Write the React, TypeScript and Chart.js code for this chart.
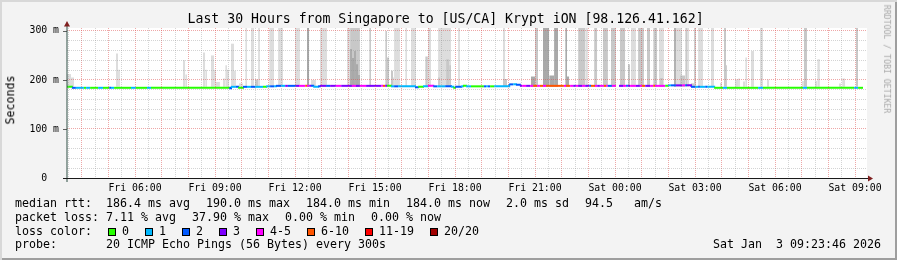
import React, { useEffect, useRef } from 'react';
import { Chart, registerables } from 'chart.js';

Chart.register(...registerables);

// ---------- text ----------
const TITLE = 'Last 30 Hours from Singapore to [US/CA] Krypt iON [98.126.41.162]';
const Y_AXIS_TITLE = 'Seconds';
const WATERMARK = 'RRDTOOL / TOBI OETIKER';
const ROW_LABELS = ['median rtt:', 'packet loss:', 'loss color:', 'probe:'];
const MEDIAN_STATS = ['186.4 ms avg', '190.0 ms max', '184.0 ms min', '184.0 ms now', '2.0 ms sd', '94.5   am/s'];
const LOSS_STATS = ['7.11 % avg', '37.90 % max', '0.00 % min', '0.00 % now'];
const PROBE = '20 ICMP Echo Pings (56 Bytes) every 300s';
const TIMESTAMP = 'Sat Jan  3 09:23:46 2026';

// ---------- axes (time in minutes since Fri 00:00) ----------
const X_MIN = 207; // Fri 03:27
const X_MAX = 2007; // Sat 09:27
const X_GRID_STEP = 30;
const X_MAJOR_STEP = 60;
const X_LABEL_STEP = 180;
const DAY_NAMES = ['Fri', 'Sat'];
const Y_MIN = 0;
const Y_MAX = 306;
const Y_GRID_STEP = 20;
const Y_LABEL_STEP = 100;

// ---------- loss legend ----------
const LOSS_LABELS = ['0', '1', '2', '3', '4-5', '6-10', '11-19', '20/20'];
const LOSS_COLORS = ['#26ff00', '#00b8ff', '#0059ff', '#7e00ff', '#ff00ff', '#ff5500', '#ff0000', '#a10000'];

// ---------- smoke (ping spread) ----------
const SMOKE_BASE = 186;
const smokeStart = [207,216,317,322,468,473,513,518,531,538,542,558,563,567,576,583,594,608,621,630,637,662,682,720,747,756,776,837,844,844,848,853,857,862,887,923,927,936,941,943,968,981,1013,1019,1042,1042,1060,1067,1087,1188,1188,1251,1260,1278,1292,1303,1328,1332,1357,1373,1393,1413,1431,1451,1469,1476,1492,1512,1526,1539,1541,1573,1577,1586,1598,1602,1611,1618,1627,1656,1676,1685,1690,1710,1717,1728,1733,1746,1766,1782,1861,1865,1890,1895,1944,1951,1982];
const smokeEnd = [216,223,322,326,473,477,518,522,538,542,551,563,567,572,583,587,603,612,628,637,641,673,693,731,752,767,792,844,866,848,853,857,862,866,891,927,932,941,943,956,972,992,1019,1026,1071,1046,1067,1071,1091,1193,1197,1260,1267,1292,1303,1312,1332,1337,1373,1379,1400,1424,1442,1463,1474,1487,1505,1519,1535,1550,1548,1577,1591,1598,1602,1607,1618,1622,1638,1663,1681,1690,1692,1717,1721,1733,1737,1753,1773,1787,1865,1872,1895,1901,1949,1958,1987];
const smokeTop = [212,205,254,221,240,211,256,221,250,221,196,203,230,221,274,219,193,400,400,201,400,400,400,400,400,200,400,400,400,263,245,259,232,210,400,300,246,219,205,400,400,400,248,400,400,205,242,230,400,400,202,207,400,400,209,400,400,207,400,400,400,400,400,400,232,400,400,400,400,400,204,400,400,209,400,400,193,400,400,400,194,400,230,201,203,197,246,259,400,201,198,400,198,242,193,203,400];
const smokeDensity = [0,0,0,0,0,0,0,0,0,0,0,0,0,0,0,0,0,0,0,1,0,0,0,0,2,0,0,0,1,2,2,2,2,2,1,1,1,1,1,0,0,0,1,0,0,1,1,1,0,0,1,2,1,2,2,2,2,2,1,0,1,1,1,1,1,0,1,1,1,0,1,2,0,1,1,0,1,1,0,0,0,1,1,0,0,0,0,0,0,0,0,1,0,0,0,0,1];
const SMOKE_COLORS = ['#dddddd', '#c8c8c8', '#a9a9a9'];

// ---------- median rtt (ms) with loss class ----------
const medTime = [207,218,227,245,250,259,277,288,302,306,313,351,362,387,396,572,576,587,592,603,612,621,630,648,655,664,673,677,689,698,704,722,729,743,747,752,756,761,772,776,790,799,812,824,848,857,866,880,914,918,923,927,936,943,952,990,997,1008,1019,1031,1040,1058,1071,1076,1080,1094,1098,1105,1116,1145,1150,1154,1159,1168,1202,1211,1217,1226,1231,1240,1249,1256,1265,1271,1278,1285,1325,1330,1339,1346,1352,1357,1366,1373,1382,1386,1395,1400,1406,1415,1420,1424,1433,1442,1443,1449,1458,1465,1469,1474,1487,1496,1501,1508,1519,1526,1530,1553,1559,1566,1577,1591,1598,1602,1611,1620,1627,1631,1643,1647,1663,1683,1692,1762,1773,1863,1872,1978,1987,1998];
const medRtt = [186,184,184,184,184,184,184,184,184,184,184,184,184,184,184,183,186,186,184,186,186,186,186,186,187,187,187,188,188,188,188,188,188,188,188,188,188,186,187,188,188,188,188,188,188,188,188,188,188,188,188,188,187,187,187,185,186,187,188,187,187,187,186,184,186,187,188,187,187,187,187,187,187,187,191,191,190,188,188,188,188,188,188,188,188,188,188,188,188,188,188,188,188,188,188,188,188,188,188,188,188,188,188,188,null,188,188,188,188,188,188,188,188,188,188,188,188,188,189,189,189,189,189,189,186,186,186,186,186,186,184,184,184,184,184,184,184,184,184,184];
const medLoss = [0,2,1,0,1,0,1,0,2,1,0,1,0,1,0,2,1,2,0,2,1,2,1,0,1,2,1,2,1,3,2,3,4,5,4,3,2,1,2,3,2,3,4,3,4,3,4,3,4,5,3,0,1,2,1,2,0,1,4,2,1,2,1,0,2,1,0,1,0,2,1,2,0,1,2,1,2,3,4,3,4,5,4,5,4,5,4,5,4,3,4,3,4,3,2,5,4,3,4,5,4,2,4,4,4,3,4,2,3,4,3,4,5,3,4,5,4,0,1,2,3,4,2,3,2,1,2,1,2,1,0,1,0,1,0,1,0,1,0,0];

// ---------- layout constants ----------
const W = 897;
const H = 260;
const MONO = '"DejaVu Sans Mono", monospace';
const LEG_SIZE = 11.63;
const CHAR_W = 7.0;
const ITEM_GAP = 16;
const COL_X = 106;
const ROW_BASE = [208.3, 222, 235.7, 249.3];
const GRID_GRAY = 'rgba(143,143,143,0.38)';
const GRID_RED = 'rgba(222,80,80,0.5)';

function range(a: number, b: number, step: number) {
  const out: number[] = [];
  const s = Math.ceil(a / step) * step;
  for (let v = s; v <= b; v += step) out.push(v);
  return out;
}

function smokePoints(density: number) {
  const pts: { x: number; y: number | null }[] = [];
  for (let i = 0; i < smokeStart.length; i++) {
    if (smokeDensity[i] !== density) continue;
    pts.push({ x: smokeStart[i], y: smokeTop[i] });
    pts.push({ x: smokeEnd[i], y: smokeTop[i] });
    pts.push({ x: smokeEnd[i], y: null });
  }
  return pts;
}

function timeLabel(v: number) {
  const day = DAY_NAMES[Math.floor(v / 1440)];
  const hh = Math.floor((v % 1440) / 60);
  const mm = v % 60;
  return `${day} ${String(hh).padStart(2, '0')}:${String(mm).padStart(2, '0')}`;
}

const framePlugin = {
  id: 'rrdFrame',
  beforeDraw(chart: any) {
    const { ctx, chartArea: a } = chart;
    ctx.save();
    ctx.fillStyle = '#ffffff';
    ctx.fillRect(a.left, a.top, a.right - a.left, a.bottom - a.top);
    ctx.restore();
  },
  afterDraw(chart: any) {
    const { ctx, chartArea: a, scales } = chart;
    ctx.save();
    ctx.fillStyle = '#606060';
    for (const v of range(Y_MIN, Y_MAX, Y_LABEL_STEP)) {
      const p = Math.round(scales.y.getPixelForValue(v));
      ctx.fillRect(a.left - 4, p, 4, 1);
    }
    ctx.strokeStyle = '#2c4d43';
    ctx.lineWidth = 1;
    ctx.beginPath();
    ctx.moveTo(a.left, a.bottom + 4);
    ctx.lineTo(a.left, a.top - 2);
    ctx.stroke();
    ctx.fillStyle = '#1a1a1a';
    ctx.fillRect(a.left - 4, Math.round(a.bottom), a.right - a.left + 8, 1);
    ctx.fillStyle = '#7f1f1f';
    ctx.beginPath();
    ctx.moveTo(a.left, a.top - 7);
    ctx.lineTo(a.left - 3, a.top - 1.5);
    ctx.lineTo(a.left + 3, a.top - 1.5);
    ctx.closePath();
    ctx.fill();
    ctx.beginPath();
    ctx.moveTo(a.right + 6, a.bottom + 0.5);
    ctx.lineTo(a.right + 1, a.bottom - 2.5);
    ctx.lineTo(a.right + 1, a.bottom + 3.5);
    ctx.closePath();
    ctx.fill();
    ctx.restore();
  },
};

function Txt(props: { x?: number; right?: number; y: number; size?: number; color?: string; children: any }) {
  const size = props.size ?? LEG_SIZE;
  const style: any = {
    position: 'absolute',
    top: props.y - 0.846 * size,
    fontFamily: MONO,
    fontSize: size,
    lineHeight: `${size}px`,
    whiteSpace: 'pre',
    color: props.color ?? '#000',
  };
  if (props.right !== undefined) style.right = props.right;
  else style.left = props.x;
  return <span style={style}>{props.children}</span>;
}

export default function App() {
  const ref = useRef<HTMLCanvasElement>(null);

  useEffect(() => {
    const canvas = ref.current;
    if (!canvas) return;
    const tickFont = { family: MONO, size: 9.8 };
    const chart = new Chart(canvas, {
      type: 'line',
      data: {
        datasets: [
          {
            label: 'median',
            data: medTime.map((t, i) => ({ x: t, y: medRtt[i] })),
            borderColor: LOSS_COLORS[0],
            borderWidth: 2,
            stepped: true,
            pointRadius: 0,
            fill: false,
            spanGaps: false,
            order: 0,
            segment: {
              borderColor: (c: any) => LOSS_COLORS[medLoss[c.p0DataIndex]],
            },
          } as any,
          ...[2, 1, 0].map((d) => ({
            label: `smoke${d}`,
            data: smokePoints(d),
            borderColor: 'rgba(0,0,0,0)',
            borderWidth: 0,
            backgroundColor: SMOKE_COLORS[d],
            pointRadius: 0,
            spanGaps: false,
            fill: { value: SMOKE_BASE },
            order: 3 - d,
          })) as any,
        ],
      },
      options: {
        animation: false,
        responsive: false,
        events: [],
        layout: { padding: { top: 28, right: 30, left: 0, bottom: 0 } },
        plugins: {
          legend: { display: false },
          tooltip: { enabled: false },
          title: { display: false },
        },
        scales: {
          x: {
            type: 'linear',
            min: X_MIN,
            max: X_MAX,
            afterBuildTicks: (s: any) => {
              s.ticks = range(X_MIN, X_MAX, X_GRID_STEP).map((v) => ({ value: v }));
            },
            afterFit: (s: any) => {
              s.height = H - 178;
              s.paddingLeft = 0;
              s.paddingRight = 0;
            },
            ticks: {
              autoSkip: false,
              maxRotation: 0,
              minRotation: 0,
              padding: 5,
              font: tickFont,
              color: '#000',
              callback: (v: any) => (Number(v) % X_LABEL_STEP === 0 ? timeLabel(Number(v)) : ''),
            },
            grid: {
              drawTicks: false,
              lineWidth: 1,
              z: 1,
              color: (c: any) => (c.tick && c.tick.value % X_MAJOR_STEP === 0 ? GRID_RED : GRID_GRAY),
            },
            border: { display: false, dash: [1, 1] },
          },
          y: {
            type: 'linear',
            min: Y_MIN,
            max: Y_MAX,
            afterBuildTicks: (s: any) => {
              s.ticks = range(Y_MIN, Y_MAX, Y_GRID_STEP).map((v) => ({ value: v }));
            },
            afterFit: (s: any) => {
              s.width = 67;
              s.paddingTop = 0;
              s.paddingBottom = 0;
            },
            ticks: {
              autoSkip: false,
              padding: 8,
              font: tickFont,
              color: '#000',
              callback: (v: any) => {
                const n = Number(v);
                if (n % Y_LABEL_STEP !== 0) return '';
                return n === 0 ? '0  ' : `${n} m`;
              },
            },
            grid: {
              drawTicks: false,
              lineWidth: 1,
              z: 1,
              color: (c: any) => (c.tick && c.tick.value % Y_LABEL_STEP === 0 ? GRID_RED : GRID_GRAY),
            },
            border: { display: false, dash: [1, 1] },
          },
        },
      },
      plugins: [framePlugin],
    } as any);
    return () => chart.destroy();
  }, []);

  const medX: number[] = [];
  {
    let x = COL_X;
    for (const s of MEDIAN_STATS) { medX.push(x); x += s.length * CHAR_W + ITEM_GAP; }
  }
  const lossX: number[] = [];
  {
    let x = COL_X;
    for (const s of LOSS_STATS) { lossX.push(x); x += s.length * CHAR_W + ITEM_GAP; }
  }
  const boxX: number[] = [];
  {
    let x = 108;
    for (const s of LOSS_LABELS) { boxX.push(x); x += 14 + s.length * CHAR_W + ITEM_GAP; }
  }

  return (
    <div
      style={{
        position: 'fixed',
        left: 0,
        top: 0,
        width: W,
        height: H,
        background: '#f3f3f3',
        overflow: 'hidden',
        boxShadow: 'inset 2px 2px 0 #d8d8d8, inset -2px -2px 0 #9e9e9e',
      }}
    >
      <canvas ref={ref} width={W} height={H} style={{ position: 'absolute', left: 0, top: 0, width: W, height: H }} />
      <Txt x={187.5} y={23.5} size={13.2}>{TITLE}</Txt>
      <div
        style={{
          position: 'absolute',
          left: 11,
          top: 100,
          transform: 'translate(-50%,-50%) rotate(-90deg)',
          fontFamily: MONO,
          fontSize: LEG_SIZE,
          lineHeight: `${LEG_SIZE}px`,
          whiteSpace: 'pre',
          color: '#000',
        }}
      >
        {Y_AXIS_TITLE}
      </div>
      <div
        style={{
          position: 'absolute',
          left: 887,
          top: 59,
          transform: 'translate(-50%,-50%) rotate(90deg)',
          fontFamily: MONO,
          fontSize: 8.2,
          lineHeight: '8.2px',
          whiteSpace: 'pre',
          color: '#a8a8a8',
        }}
      >
        {WATERMARK}
      </div>

      <Txt x={15} y={ROW_BASE[0]}>{ROW_LABELS[0]}</Txt>
      {MEDIAN_STATS.map((s, i) => (
        <Txt key={'m' + i} x={medX[i]} y={ROW_BASE[0]}>{s}</Txt>
      ))}
      <Txt x={15} y={ROW_BASE[1]}>{ROW_LABELS[1]}</Txt>
      {LOSS_STATS.map((s, i) => (
        <Txt key={'l' + i} x={lossX[i]} y={ROW_BASE[1]}>{s}</Txt>
      ))}
      <Txt x={15} y={ROW_BASE[2]}>{ROW_LABELS[2]}</Txt>
      {LOSS_LABELS.map((s, i) => (
        <React.Fragment key={'c' + i}>
          <div
            style={{
              position: 'absolute',
              left: boxX[i],
              top: 228,
              width: 8,
              height: 8,
              boxSizing: 'border-box',
              border: '1px solid #000',
              background: LOSS_COLORS[i],
            }}
          />
          <Txt x={boxX[i] + 14} y={ROW_BASE[2]}>{s}</Txt>
        </React.Fragment>
      ))}
      <Txt x={15} y={ROW_BASE[3]}>{ROW_LABELS[3]}</Txt>
      <Txt x={COL_X} y={ROW_BASE[3]}>{PROBE}</Txt>
      <Txt right={16} y={ROW_BASE[3]}>{TIMESTAMP}</Txt>
    </div>
  );
}
